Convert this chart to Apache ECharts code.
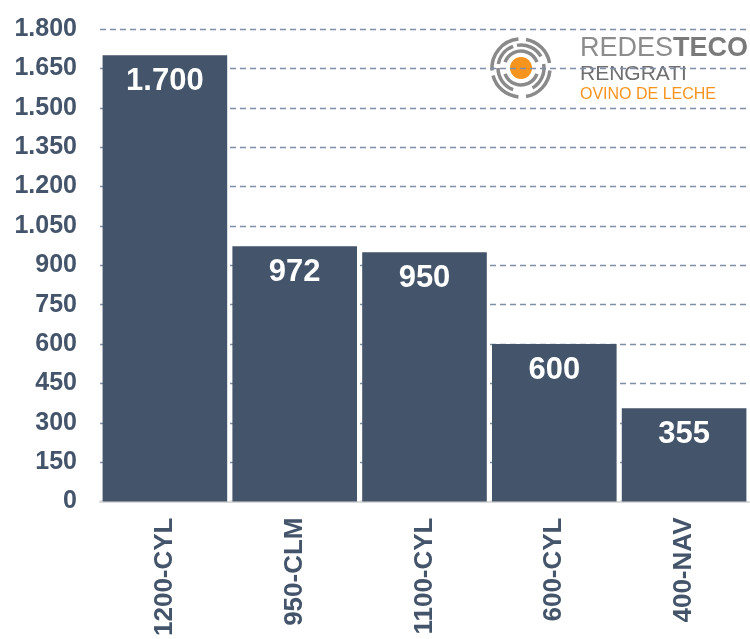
<!DOCTYPE html>
<html>
<head>
<meta charset="utf-8">
<script src="https://cdn.jsdelivr.net/npm/echarts@6/dist/echarts.min.js"></script>
<style>
  html, body { margin: 0; padding: 0; background: #fff; }
  #chart { width: 750px; height: 639px; }
</style>
</head>
<body>
<div id="chart"></div>
<script>
  // datos del grafico
  var categorias = ['1200-CYL', '950-CLM', '1100-CYL', '600-CYL', '400-NAV']
  var valores = [1700, 972, 950, 600, 355]
  var yTicks = [0, 150, 300, 450, 600, 750, 900, 1050, 1200, 1350, 1500, 1650, 1800]

  var azul = '#44546A'
  var naranja = '#F7941D'
  var fuente = 'Liberation Sans, Arial, sans-serif'

  // formato con punto de miles
  function fmt (v) {
    return String(v).replace(/\B(?=(\d{3})+(?!\d))/g, '.')
  }

  var chart = echarts.init(document.getElementById('chart'))

  // anillos del logo
  var cx = 521, cy = 68
  var anillos = []
  var rings = [
    {r: 17, arcs: [[200, 340], [20, 160]]},
    {r: 23, arcs: [[110, 180], [190, 250], [260, 330], [350, 420]]},
    {r: 29, arcs: [[95, 165], [175, 265], [280, 350], [5, 80]]}
  ]
  rings.forEach(function (ring) {
    ring.arcs.forEach(function (a) {
      anillos.push({
        type: 'arc',
        shape: {cx: cx, cy: cy, r: ring.r, startAngle: a[0] * Math.PI / 180, endAngle: a[1] * Math.PI / 180},
        style: {stroke: '#8a8a8a', lineWidth: 3.5, fill: null},
        silent: true
      })
    })
  })

  chart.setOption({
    animation: false,
    grid: {left: 100, right: 1, top: 29, bottom: 136, containLabel: false},
    xAxis: {
      type: 'category',
      data: categorias,
      axisLine: {show: true, lineStyle: {color: '#d9d9d9', width: 2}},
      axisTick: {show: false},
      axisLabel: {
        rotate: 90,
        color: azul,
        fontSize: 26,
        fontWeight: 'bold',
        fontFamily: fuente,
        margin: 16
      }
    },
    yAxis: {
      type: 'value',
      min: 0,
      max: 1800,
      interval: 150,
      axisLine: {show: false},
      axisTick: {show: false},
      axisLabel: {
        color: azul,
        fontSize: 25,
        fontWeight: 'bold',
        fontFamily: fuente,
        margin: 23,
        formatter: function (v) { return fmt(v) }
      },
      splitLine: {
        show: true,
        lineStyle: {color: '#7f8fa6', type: [6, 4], width: 1.3}
      }
    },
    series: [{
      type: 'bar',
      data: valores,
      barCategoryGap: '4%',
      itemStyle: {color: azul},
      label: {
        show: true,
        position: 'insideTop',
        distance: 11,
        color: '#ffffff',
        fontSize: 31,
        fontWeight: 'bold',
        fontFamily: fuente,
        formatter: function (p) { return fmt(p.value) }
      }
    }],
    graphic: anillos.concat([
      {
        type: 'circle',
        shape: {cx: cx, cy: cy, r: 11},
        style: {fill: naranja},
        silent: true
      },
      {
        type: 'text',
        left: 580, top: 35,
        style: {
          rich: {
            a: {fontSize: 27, fill: '#8c8c8c', fontFamily: fuente},
            b: {fontSize: 27, fill: '#7a7a7a', fontWeight: 'bold', fontFamily: fuente}
          },
          text: '{a|REDES}{b|TECO}'
        },
        silent: true
      },
      {
        type: 'text',
        left: 580, top: 64,
        style: {text: 'RENGRATI', fontSize: 21, fill: '#6f6f6f', fontFamily: fuente},
        silent: true
      },
      {
        type: 'text',
        left: 580, top: 87,
        style: {text: 'OVINO DE LECHE', fontSize: 16, fill: naranja, fontFamily: fuente},
        silent: true
      }
    ])
  })
</script>
</body>
</html>
